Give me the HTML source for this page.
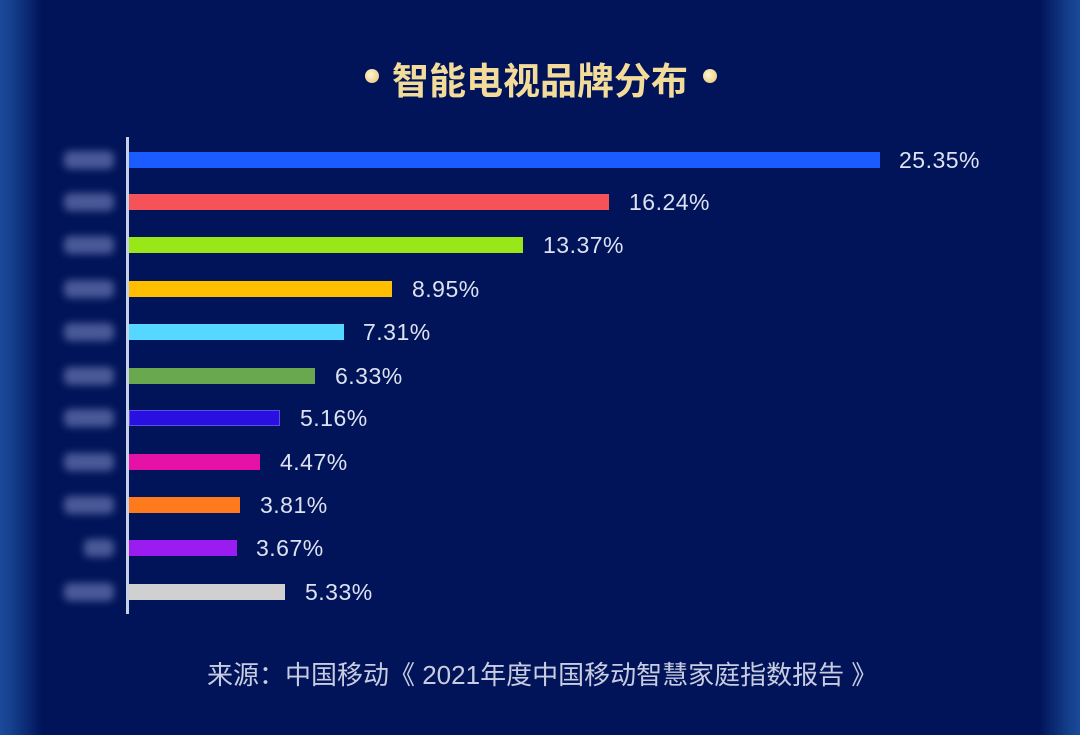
<!DOCTYPE html>
<html><head><meta charset="utf-8"><style>
html,body{margin:0;padding:0}
body{width:1080px;height:735px;position:relative;overflow:hidden;background:#011459;font-family:"Liberation Sans","Noto Sans CJK SC",sans-serif}
.edgeL{position:absolute;left:0;top:0;width:42px;height:735px;background:linear-gradient(90deg,#1a4a9a 0%,#15418e 25%,#011459 100%)}
.edgeR{position:absolute;right:0;top:0;width:40px;height:735px;background:linear-gradient(270deg,#1a4a9a 0%,#15418e 25%,#011459 100%)}
.title{position:absolute;left:0;width:1080px;top:54px;text-align:center;font-size:37px;font-weight:bold;color:#f3dc9a;font-family:"Noto Sans CJK SC",sans-serif;line-height:48px}
.dot{position:absolute;top:69px;width:14px;height:14px;border-radius:50%;background:radial-gradient(circle at 40% 40%,#fff6d0,#e8c070)}
.axis{position:absolute;left:126px;top:137px;width:3px;height:477px;background:#c8d0e8}
.bar{position:absolute;left:129px;height:16px}
.val{position:absolute;font-size:23px;color:#dde2f0;line-height:22px;letter-spacing:0.5px}
.lab{position:absolute;left:64px;width:50px;height:18px;border-radius:6px;background:#4a5a98;filter:blur(4px)}
.src{position:absolute;left:207px;top:655px;font-size:26px;color:#c8cce0;font-family:"Liberation Sans","Noto Sans CJK SC",sans-serif;white-space:nowrap}
</style></head><body>
<div class="edgeL"></div><div class="edgeR"></div>
<div class="dot" style="left:365px"></div>
<div class="dot" style="left:703px"></div>
<div class="title">智能电视品牌分布</div>
<div class="axis"></div>

<div class="lab" style="top:151px"></div>
<div class="lab" style="top:193px"></div>
<div class="lab" style="top:236px"></div>
<div class="lab" style="top:280px"></div>
<div class="lab" style="top:323px"></div>
<div class="lab" style="top:367px"></div>
<div class="lab" style="top:409px"></div>
<div class="lab" style="top:453px"></div>
<div class="lab" style="top:496px"></div>
<div class="lab" style="top:539px;left:84px;width:30px"></div>
<div class="lab" style="top:583px"></div>

<div class="bar" style="top:152px;width:751px;background:#1a5cff"></div>
<div class="val" style="top:149px;left:899px">25.35%</div>
<div class="bar" style="top:194px;width:480px;background:#f5525a"></div>
<div class="val" style="top:191px;left:629px">16.24%</div>
<div class="bar" style="top:237px;width:394px;background:#99e619"></div>
<div class="val" style="top:234px;left:543px">13.37%</div>
<div class="bar" style="top:281px;width:263px;background:#ffbf00"></div>
<div class="val" style="top:278px;left:412px">8.95%</div>
<div class="bar" style="top:324px;width:215px;background:#55d8ff"></div>
<div class="val" style="top:321px;left:363px">7.31%</div>
<div class="bar" style="top:368px;width:186px;background:#6aa84f"></div>
<div class="val" style="top:365px;left:335px">6.33%</div>
<div class="bar" style="top:410px;width:151px;background:#2a10e0;box-sizing:border-box;border:1px solid #5a50e8"></div>
<div class="val" style="top:407px;left:300px">5.16%</div>
<div class="bar" style="top:454px;width:131px;background:#e612a8"></div>
<div class="val" style="top:451px;left:280px">4.47%</div>
<div class="bar" style="top:497px;width:111px;background:#ff7a1c"></div>
<div class="val" style="top:494px;left:260px">3.81%</div>
<div class="bar" style="top:540px;width:108px;background:#9b1cf0"></div>
<div class="val" style="top:537px;left:256px">3.67%</div>
<div class="bar" style="top:584px;width:156px;background:#d0d0d0"></div>
<div class="val" style="top:581px;left:305px">5.33%</div>

<div class="src">来源：中国移动《 2021年度中国移动智慧家庭指数报告 》</div>
</body></html>
